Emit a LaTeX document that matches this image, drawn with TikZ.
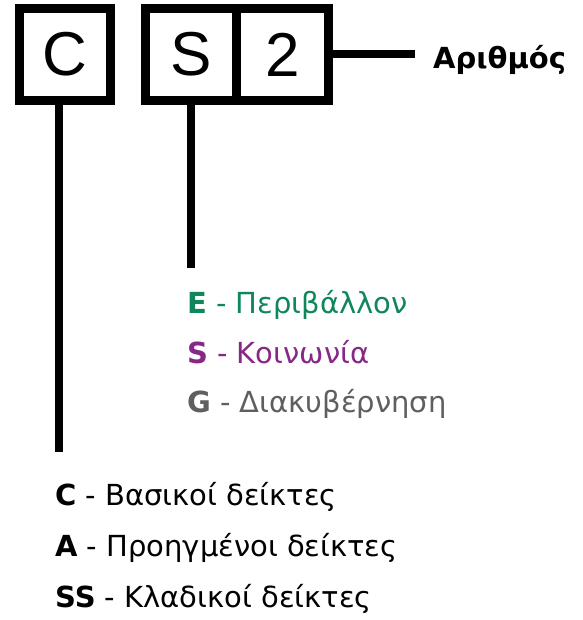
\documentclass[tikz,border=0pt]{standalone}
\usepackage{fontspec}
\setmainfont{DejaVu Sans}[BoldFont={DejaVu Sans Bold}]
\newfontfamily\boxfont{Liberation Sans}
\definecolor{egreen}{RGB}{16,135,90}
\definecolor{spurple}{RGB}{135,40,135}
\definecolor{ggray}{RGB}{95,95,95}
\begin{document}
\begin{tikzpicture}[x=1pt,y=-1pt,
  codebox/.style={draw=black,line width=8.5pt,minimum height=92pt,inner sep=0pt,
    font=\boxfont\fontsize{62}{62}\selectfont},
  conn/.style={draw=black,line width=8pt},
  lab/.style={anchor=base west,inner sep=0pt,font=\fontsize{29}{29}\selectfont}]
\useasboundingbox (0,0) rectangle (582,620);
\node[codebox,minimum width=91pt] (c) at (65,54.5) {C};
\node[codebox,minimum width=91pt] (s) at (191,54.5) {S};
\node[codebox,minimum width=92pt] (two) at (282.5,54.5) {2};
\coordinate (cend) at (59,452);
\coordinate (send) at (191,268);
\coordinate (nend) at (415,54.5);
\draw[conn] (cend |- c.south) -- (cend);
\draw[conn] (s.south) -- (send);
\draw[conn] (two.east) -- (nend);
\node[lab,font=\fontsize{29}{29}\selectfont\bfseries] (num) at (433,69) {Αριθμός};
\node[lab,text=egreen] (e) at (187,313) {\textbf{E} - Περιβάλλον};
\node[lab,text=spurple] (so) at (187,363) {\textbf{S} - Κοινωνία};
\node[lab,text=ggray] (g) at (187,412) {\textbf{G} - Διακυβέρνηση};
\node[lab] (cl) at (55,505) {\textbf{C} - Βασικοί δείκτες};
\node[lab] (al) at (55,556) {\textbf{A} - Προηγμένοι δείκτες};
\node[lab] (ssl) at (55,607) {\textbf{SS} - Κλαδικοί δείκτες};
\end{tikzpicture}
\end{document}
